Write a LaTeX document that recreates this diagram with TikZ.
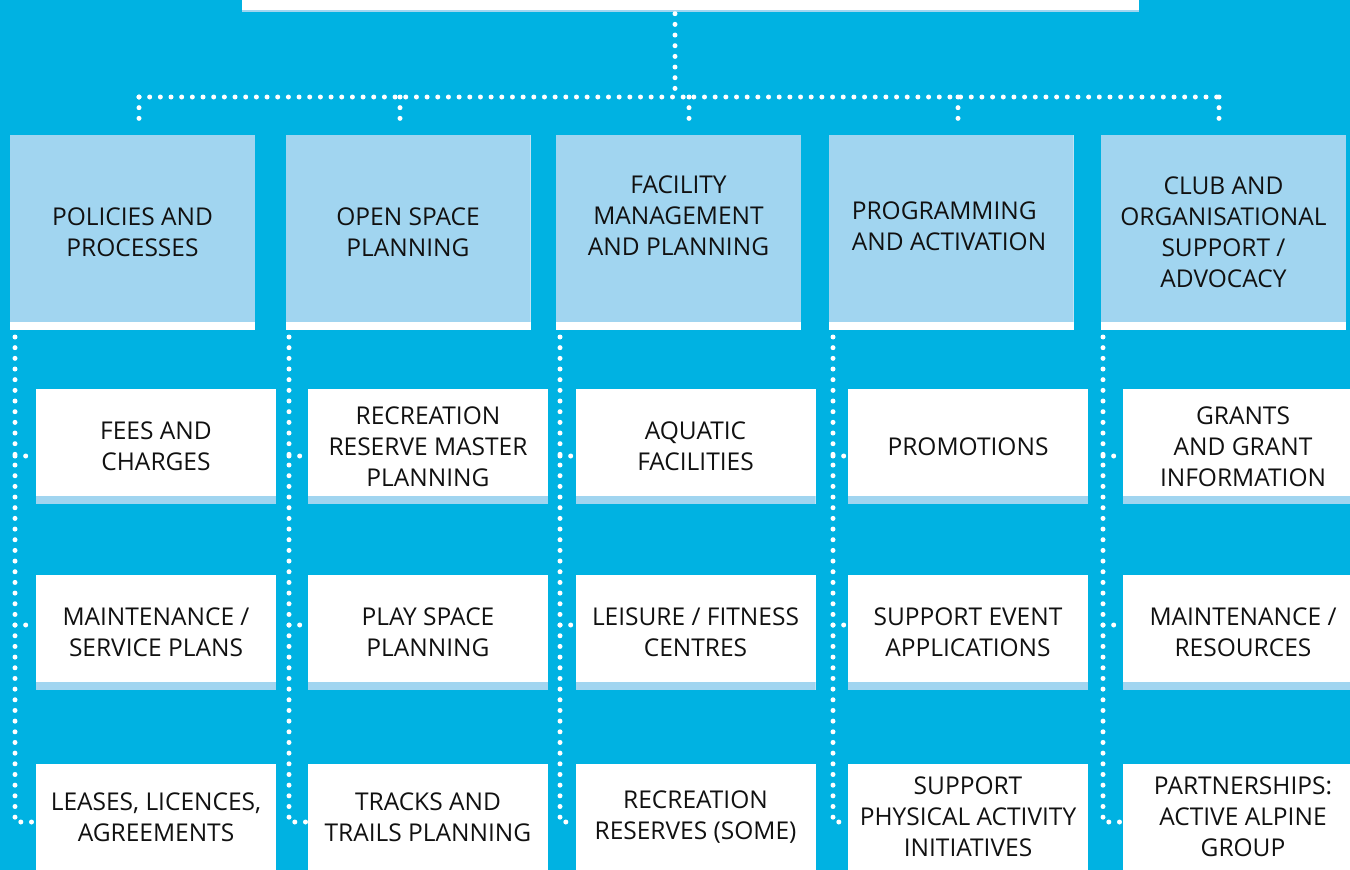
\documentclass[tikz,border=0pt]{standalone}
\usepackage{fontspec}
\setmainfont{Open Sans}
\definecolor{bg}{HTML}{00B2E2}
\definecolor{lb}{HTML}{A1D5F0}
\definecolor{ink}{HTML}{111111}
\begin{document}
\begin{tikzpicture}[x=1pt,y=-1pt,
 txt/.style={font=\fontsize{24.5}{31}\selectfont, text=ink, align=center},
 topbox/.style={rectangle, inner sep=0, fill=white, minimum width=897pt, minimum height=40pt,
   path picture={\fill[lb] ([yshift=1.5pt]path picture bounding box.south west) rectangle (path picture bounding box.south east);}},
 hdr/.style={rectangle, inner sep=0, fill=white, minimum width=245pt, minimum height=195pt, txt,
   path picture={\fill[lb] (path picture bounding box.north west) rectangle ([yshift=8pt]path picture bounding box.south east);}},
 child/.style={rectangle, inner sep=0, fill=white, minimum width=240pt, minimum height=115pt, txt,
   path picture={\fill[lb] ([yshift=8pt]path picture bounding box.south west) rectangle (path picture bounding box.south east);}},
 lastchild/.style={rectangle, inner sep=0, fill=white, minimum width=240pt, minimum height=106pt, txt},
 dots/.style={draw=white, line width=5pt, line cap=round, dash pattern=on 0pt off 10.67pt}]
\fill[bg] (0,0) rectangle (1350,870);
\useasboundingbox (0,0) rectangle (1350,870);
\clip (0,0) rectangle (1350,870);

% top box
\node[topbox] (top) at (690.5,-8.5) {};

% headers
\node[hdr] (h1) at (132.5,232) {POLICIES AND\\PROCESSES};
\node[hdr] (h2) at (408,232) {OPEN SPACE\\PLANNING};
\node[hdr, label={[txt,yshift=16pt]center:FACILITY\\MANAGEMENT\\AND PLANNING}] (h3) at (678.5,232) {};
\node[hdr, label={[txt,align=left,anchor=west,xshift=20pt,yshift=6pt]west:PROGRAMMING\\AND ACTIVATION}] (h4) at (951,232) {};
\node[hdr] (h5) at (1223.5,232) {CLUB AND\\ORGANISATIONAL\\SUPPORT /\\ADVOCACY};

% children
\node[child] (c11) at (156,446.5) {FEES AND\\CHARGES};
\node[child] (c12) at (156,632) {MAINTENANCE /\\SERVICE PLANS};
\node[lastchild] (c13) at (156,817) {LEASES, LICENCES,\\AGREEMENTS};
\node[child] (c21) at (428,446.5) {RECREATION\\RESERVE MASTER\\PLANNING};
\node[child] (c22) at (428,632) {PLAY SPACE\\PLANNING};
\node[lastchild] (c23) at (428,817) {TRACKS AND\\TRAILS PLANNING};
\node[child] (c31) at (695.5,446.5) {AQUATIC\\FACILITIES};
\node[child] (c32) at (695.5,632) {LEISURE / FITNESS\\CENTRES};
\node[lastchild] (c33) at (695.5,817) {RECREATION\\RESERVES (SOME)};
\node[child] (c41) at (968,446.5) {PROMOTIONS};
\node[child] (c42) at (968,632) {SUPPORT EVENT\\APPLICATIONS};
\node[lastchild] (c43) at (968,817) {SUPPORT\\PHYSICAL ACTIVITY\\INITIATIVES};
\node[child] (c51) at (1243,446.5) {GRANTS\\AND GRANT\\INFORMATION};
\node[child] (c52) at (1243,632) {MAINTENANCE /\\RESOURCES};
\node[lastchild] (c53) at (1243,817) {PARTNERSHIPS:\\ACTIVE ALPINE\\GROUP};

% bus
\coordinate (bus) at (675,97);
\coordinate (b1) at (139,97);
\coordinate (b2) at (400,97);
\coordinate (b3) at (689,97);
\coordinate (b4) at (958,97);
\coordinate (b5) at (1219,97);
\draw[dots] ([yshift=-2pt]top.south -| bus) -- (bus);
\draw[dots] (b1) -- (b5);
\foreach \i in {1,...,5} {
  \coordinate (d\i) at ([yshift=13pt]h\i.north);
  \draw[dots] (b\i) -- (d\i -| b\i);
}

% column spines
\coordinate (v1) at (15,337);
\coordinate (v2) at (289,337);
\coordinate (v3) at (560,337);
\coordinate (v4) at (833,337);
\coordinate (v5) at (1103,337);
\foreach \i in {1,...,5} {
  \coordinate (s\i1) at ([yshift=-9.5pt]c\i1.west);
  \coordinate (s\i2) at ([yshift=7pt]c\i2.west);
  \coordinate (s\i3) at ([yshift=-5pt]c\i3.west);
  \draw[dots] (v\i) |- (s\i3);
  \draw[dots] (v\i |- s\i1) -- (s\i1);
  \draw[dots] (v\i |- s\i2) -- (s\i2);
}
\end{tikzpicture}
\end{document}
